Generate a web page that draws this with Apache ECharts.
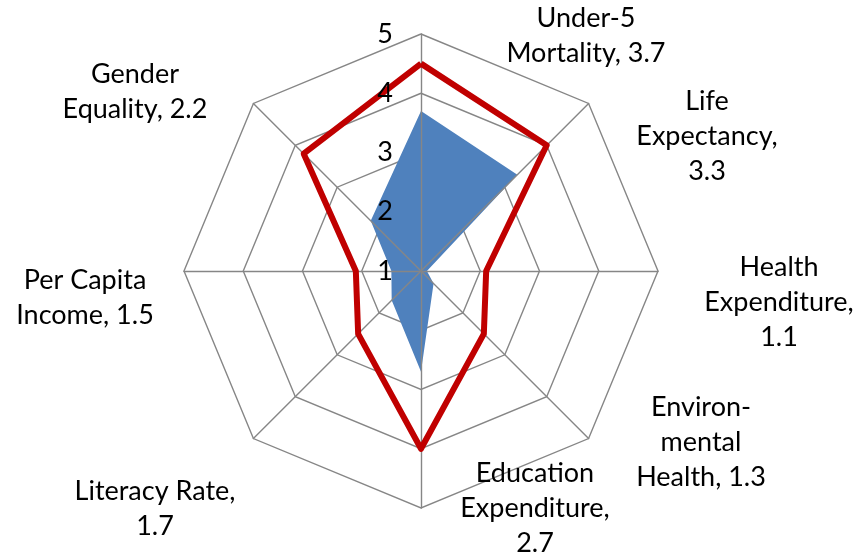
<!DOCTYPE html>
<html>
<head>
<meta charset="utf-8">
<script src="https://cdn.jsdelivr.net/npm/echarts@6/dist/echarts.min.js"></script>
<style>
  html, body { margin: 0; padding: 0; background: #fff; }
  #chart { width: 857px; height: 554px; }
</style>
</head>
<body>
<div id="chart"></div>
<script>
// indicators listed counter-clockwise from the top (ECharts radar order)
const categories = ['Under-5 Mortality', 'Gender Equality', 'Per Capita Income', 'Literacy Rate',
  'Education Expenditure', 'Environmental Health', 'Health Expenditure', 'Life Expectancy'];
// label text as broken in the picture, value is appended
const labelText = ['Under-5\nMortality, ', 'Gender\nEquality, ', 'Per Capita\nIncome, ', 'Literacy Rate,\n',
  'Education\nExpenditure,\n', 'Environ-\nmental\nHealth, ', 'Health\nExpenditure,\n', 'Life\nExpectancy,\n'];
const actualValues = [3.7, 2.2, 1.5, 1.7, 2.7, 1.3, 1.1, 3.3];
const targetValues = [4.5, 3.8, 2.1, 2.5, 4.0, 2.5, 2.1, 4.0];
const tickLabels = [1, 2, 3, 4, 5];

const labelPos = [[586, 36], [135, 92], [85, 298], [155, 509], [535, 508], [701, 442], [779, 302], [707, 136]];

const FONT = 'Lato, "Open Sans", sans-serif';
const indicator = categories.map(c => ({ name: c, min: tickLabels[0], max: tickLabels[tickLabels.length - 1] }));

let myChart = echarts.init(document.getElementById('chart'));
myChart.setOption({
  animation: false,
  radar: [
    {
      // rings
      center: [421, 271],
      radius: 237,
      startAngle: 90,
      shape: 'polygon',
      splitNumber: tickLabels.length - 1,
      indicator: indicator,
      axisName: { show: false },
      splitArea: { show: false },
      splitLine: { lineStyle: { color: '#868686', width: 1.4 } },
      axisLine: { show: false },
      z: 0
    },
    {
      // spokes drawn over the blue area
      center: [421, 271],
      radius: 237,
      startAngle: 90,
      shape: 'polygon',
      splitNumber: tickLabels.length - 1,
      indicator: indicator,
      axisName: { show: false },
      splitArea: { show: false },
      splitLine: { show: false },
      axisLine: { lineStyle: { color: '#868686', width: 1.4 } },
      z: 2
    }
  ],
  polar: { center: [421, 271], radius: 237 },
  angleAxis: { show: false, startAngle: 90, min: 0, max: 360 },
  radiusAxis: {
    min: tickLabels[0],
    max: tickLabels[tickLabels.length - 1],
    interval: 1,
    z: 5,
    axisLine: { show: false },
    axisTick: { show: false },
    splitLine: { show: false },
    axisLabel: { fontSize: 27, fontFamily: FONT, color: '#000', margin: 28, padding: [6, 0, 0, 0] }
  },
  series: [
    {
      type: 'radar',
      radarIndex: 0,
      z: 1,
      symbol: 'none',
      lineStyle: { width: 0 },
      areaStyle: { color: '#4f81bd', opacity: 1 },
      data: [{ value: actualValues }]
    },
    {
      type: 'radar',
      radarIndex: 0,
      z: 3,
      symbol: 'none',
      lineStyle: { color: '#c00000', width: 6 },
      data: [{ value: targetValues }]
    }
  ],
  graphic: categories.map((c, i) => ({
    type: 'text',
    x: labelPos[i][0],
    y: labelPos[i][1],
    z: 10,
    style: {
      text: labelText[i] + actualValues[i].toFixed(1),
      font: '27px ' + FONT,
      fill: '#000',
      align: 'center',
      verticalAlign: 'middle',
      lineHeight: 35
    }
  }))
});
</script>
</body>
</html>
